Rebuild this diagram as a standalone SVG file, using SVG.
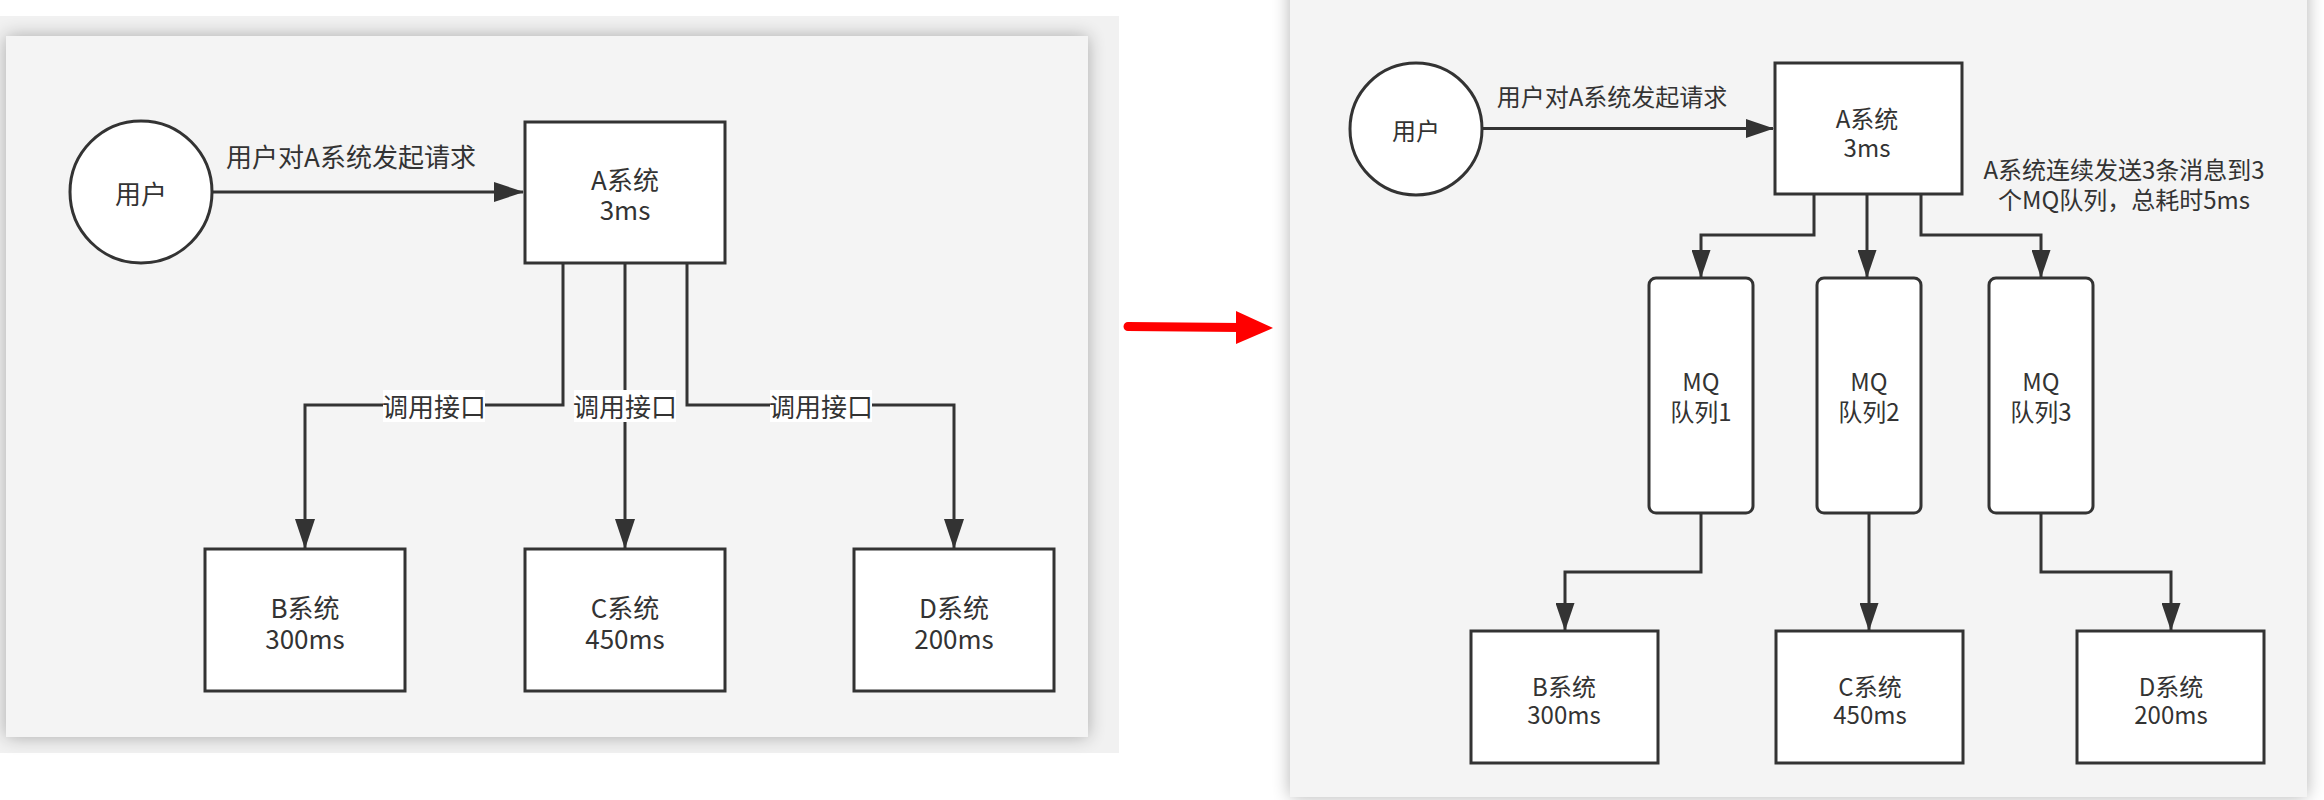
<svg xmlns="http://www.w3.org/2000/svg" width="2324" height="800" viewBox="0 0 2324 800">
  <defs>
    <style>
      .node { fill: #ffffff; stroke: #333333; stroke-width: 3; }
      .edge { fill: none; stroke: #333333; stroke-width: 3; }
      .t { font-family: "Noto Sans CJK SC", "Noto Sans", sans-serif; fill: #333333; text-anchor: middle; dominant-baseline: central; }
      .tl { font-size: 26px; }
      .tr { font-size: 24px; }
      .lblbg { fill: #ffffff; }
    </style>
    <marker id="arrL" markerUnits="userSpaceOnUse" viewBox="0 0 30 20" refX="29" refY="10" markerWidth="30" markerHeight="20" orient="auto">
      <path d="M0,0 L30,10 L0,20 Z" fill="#333333"/>
    </marker>
    <marker id="arrR" markerUnits="userSpaceOnUse" viewBox="0 0 28 19" refX="27" refY="9.5" markerWidth="28" markerHeight="19" orient="auto">
      <path d="M0,0 L28,9.5 L0,19 Z" fill="#333333"/>
    </marker>
    <filter id="sh" x="-5%" y="-5%" width="110%" height="110%">
      <feGaussianBlur in="SourceAlpha" stdDeviation="9"/>
      <feComponentTransfer><feFuncA type="linear" slope="0.3"/></feComponentTransfer>
      <feMerge><feMergeNode/><feMergeNode in="SourceGraphic"/></feMerge>
    </filter>
  </defs>

  <rect x="0" y="0" width="2324" height="800" fill="#ffffff"/>

  <!-- left panel -->
  <g id="left-panel">
    <rect x="0" y="16" width="1119" height="737" fill="#f1f1f1"/>
    <rect x="6" y="36" width="1082" height="701" fill="#f4f4f4" filter="url(#sh)"/>
  </g>

  <!-- right panel -->
  <g id="right-panel">
    <rect x="1290" y="-20" width="1017" height="817" fill="#f4f4f4" filter="url(#sh)"/>
  </g>

  <!-- red transition arrow -->
  <g id="transition-arrow">
    <line x1="1128" y1="326.5" x2="1240" y2="327.5" stroke="#ff0000" stroke-width="9" stroke-linecap="round"/>
    <polygon points="1236,311 1273,328 1236,344" fill="#ff0000"/>
  </g>

  <!-- LEFT connectors -->
  <g id="left-connectors">
    <line class="edge" x1="212" y1="192" x2="523" y2="192" marker-end="url(#arrL)"/>
    <path class="edge" d="M563,263 V405 H305 V548" marker-end="url(#arrL)"/>
    <path class="edge" d="M625,263 V548" marker-end="url(#arrL)"/>
    <path class="edge" d="M687,263 V405 H954 V548" marker-end="url(#arrL)"/>
    <text class="t tl" x="351" y="155">用户对A系统发起请求</text>
    <rect class="lblbg" x="383" y="390" width="102" height="32"/>
    <text class="t tl" x="434" y="405">调用接口</text>
    <rect class="lblbg" x="574" y="390" width="102" height="32"/>
    <text class="t tl" x="625" y="405">调用接口</text>
    <rect class="lblbg" x="770" y="390" width="102" height="32"/>
    <text class="t tl" x="821" y="405">调用接口</text>
  </g>

  <!-- LEFT nodes -->
  <g id="L-user">
    <ellipse class="node" cx="141" cy="192" rx="71" ry="71"/>
    <text class="t tl" x="141" y="192">用户</text>
  </g>
  <g id="L-A">
    <rect class="node" x="525" y="122" width="200" height="141"/>
    <text class="t tl"><tspan x="625" y="178">A系统</tspan><tspan x="625" y="208">3ms</tspan></text>
  </g>
  <g id="L-B">
    <rect class="node" x="205" y="549" width="200" height="142"/>
    <text class="t tl"><tspan x="305" y="606">B系统</tspan><tspan x="305" y="637">300ms</tspan></text>
  </g>
  <g id="L-C">
    <rect class="node" x="525" y="549" width="200" height="142"/>
    <text class="t tl"><tspan x="625" y="606">C系统</tspan><tspan x="625" y="637">450ms</tspan></text>
  </g>
  <g id="L-D">
    <rect class="node" x="854" y="549" width="200" height="142"/>
    <text class="t tl"><tspan x="954" y="606">D系统</tspan><tspan x="954" y="637">200ms</tspan></text>
  </g>

  <!-- RIGHT connectors -->
  <g id="right-connectors">
    <line class="edge" x1="1482" y1="128.5" x2="1773" y2="128.5" marker-end="url(#arrR)"/>
    <path class="edge" d="M1814,194 V235 H1701 V277" marker-end="url(#arrR)"/>
    <path class="edge" d="M1867,194 V277" marker-end="url(#arrR)"/>
    <path class="edge" d="M1921,194 V235 H2041 V277" marker-end="url(#arrR)"/>
    <path class="edge" d="M1701,513 V572 H1565 V630" marker-end="url(#arrR)"/>
    <path class="edge" d="M1869,513 V630" marker-end="url(#arrR)"/>
    <path class="edge" d="M2041,513 V572 H2171 V630" marker-end="url(#arrR)"/>
    <text class="t tr" x="1612" y="95">用户对A系统发起请求</text>
    <text class="t tr"><tspan x="2124" y="168">A系统连续发送3条消息到3</tspan><tspan x="2124" y="198">个MQ队列，总耗时5ms</tspan></text>
  </g>

  <!-- RIGHT nodes -->
  <g id="R-user">
    <ellipse class="node" cx="1416" cy="129" rx="66" ry="66"/>
    <text class="t tr" x="1416" y="129">用户</text>
  </g>
  <g id="R-A">
    <rect class="node" x="1775" y="63" width="187" height="131"/>
    <text class="t tr"><tspan x="1867" y="117">A系统</tspan><tspan x="1867" y="146">3ms</tspan></text>
  </g>
  <g id="R-MQ1">
    <rect class="node" x="1649" y="278" width="104" height="235" rx="7" ry="7"/>
    <text class="t tr"><tspan x="1701" y="380">MQ</tspan><tspan x="1701" y="410">队列1</tspan></text>
  </g>
  <g id="R-MQ2">
    <rect class="node" x="1817" y="278" width="104" height="235" rx="7" ry="7"/>
    <text class="t tr"><tspan x="1869" y="380">MQ</tspan><tspan x="1869" y="410">队列2</tspan></text>
  </g>
  <g id="R-MQ3">
    <rect class="node" x="1989" y="278" width="104" height="235" rx="7" ry="7"/>
    <text class="t tr"><tspan x="2041" y="380">MQ</tspan><tspan x="2041" y="410">队列3</tspan></text>
  </g>
  <g id="R-B">
    <rect class="node" x="1471" y="631" width="187" height="132"/>
    <text class="t tr"><tspan x="1564" y="685">B系统</tspan><tspan x="1564" y="713">300ms</tspan></text>
  </g>
  <g id="R-C">
    <rect class="node" x="1776" y="631" width="187" height="132"/>
    <text class="t tr"><tspan x="1870" y="685">C系统</tspan><tspan x="1870" y="713">450ms</tspan></text>
  </g>
  <g id="R-D">
    <rect class="node" x="2077" y="631" width="187" height="132"/>
    <text class="t tr"><tspan x="2171" y="685">D系统</tspan><tspan x="2171" y="713">200ms</tspan></text>
  </g>
</svg>
